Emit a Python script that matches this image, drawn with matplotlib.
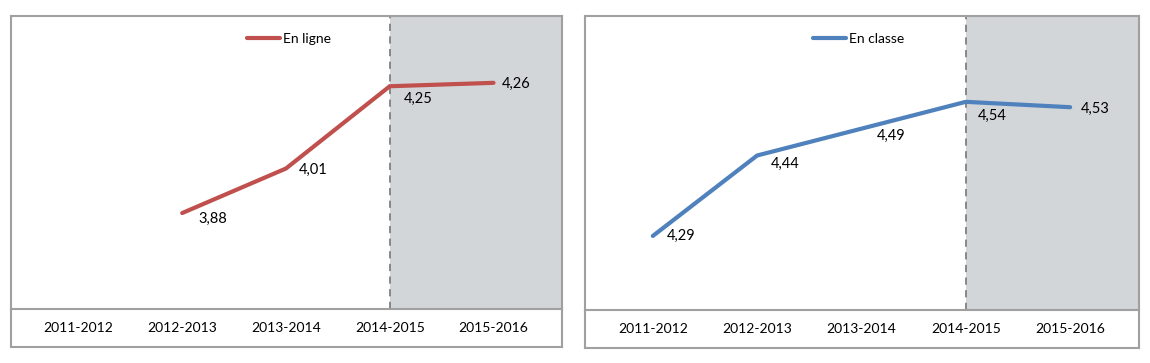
import numpy as np
import matplotlib.pyplot as plt
from matplotlib.lines import Line2D

plt.rcParams['font.family'] = ['Lato', 'DejaVu Sans']

years = ['2011-2012', '2012-2013', '2013-2014', '2014-2015', '2015-2016']
en_ligne = [np.nan, 3.88, 4.01, 4.25, 4.26]
en_classe = [4.29, 4.44, 4.49, 4.54, 4.53]

red = '#C0504D'
blue = '#4F81BD'
border = '#A0A0A0'
shade = '#D3D6D9'

W, H = 1150, 363
fig = plt.figure(figsize=(W / 100, H / 100), dpi=100)


def px_axes(x0, y0, x1, y1):
    return fig.add_axes([x0 / W, 1 - y1 / H, (x1 - x0) / W, (y1 - y0) / H])


def panel(box, divider, values, color, label, ylim, offsets, legend_x):
    x0, y0, x1, y1 = box
    ax = px_axes(x0, y0, x1, divider)
    axb = px_axes(x0, divider, x1, y1)
    xs = np.arange(len(years))
    xlim = (-0.65, 4.66)

    ax.axvspan(3, xlim[1], color=shade, lw=0, zorder=0)
    ax.axvline(3, color='#808080', lw=1.3, ls=(0, (4, 3)), zorder=1)
    ax.plot(xs, values, color=color, lw=3, solid_capstyle='round',
            solid_joinstyle='miter', zorder=3)
    for x, v, off in zip(xs, values, offsets):
        if np.isnan(v):
            continue
        ax.annotate(f'{v:.2f}'.replace('.', ','), (x, v), xytext=off,
                    textcoords='offset pixels', ha='left', va='center',
                    fontsize=10.5, color='black')
    ax.set_xlim(xlim)
    ax.set_ylim(ylim)
    ax.set_xticks([])
    ax.set_yticks([])

    axb.set_xlim(xlim)
    axb.set_ylim(0, 1)
    axb.set_xticks([])
    axb.set_yticks([])
    for x, yr in zip(xs, years):
        axb.text(x, 0.5, yr, ha='center', va='center', fontsize=10)

    for a in (ax, axb):
        for s in a.spines.values():
            s.set_color(border)
            s.set_linewidth(1.5)
    ax.spines['bottom'].set_visible(False)

    handle = Line2D([], [], color=color, lw=3, solid_capstyle='round')
    fig.legend([handle], [label], loc='center left',
               bbox_to_anchor=(legend_x / W, 1 - 39 / H),
               frameon=False, borderpad=0, borderaxespad=0,
               handlelength=2.4, handletextpad=0.2, fontsize=10)


panel((11, 16, 562, 347), 309, en_ligne, red, 'En ligne', (3.60, 4.455),
      [(0, 0), (16, -6), (13, -1), (14, -13), (8, -1)], 247)
panel((585, 16, 1139, 348), 310, en_classe, blue, 'En classe', (4.152, 4.70),
      [(14, 0), (14, -8), (15, -7), (12, -14), (11, -2)], 813)

fig.savefig('out.png', dpi=100)
